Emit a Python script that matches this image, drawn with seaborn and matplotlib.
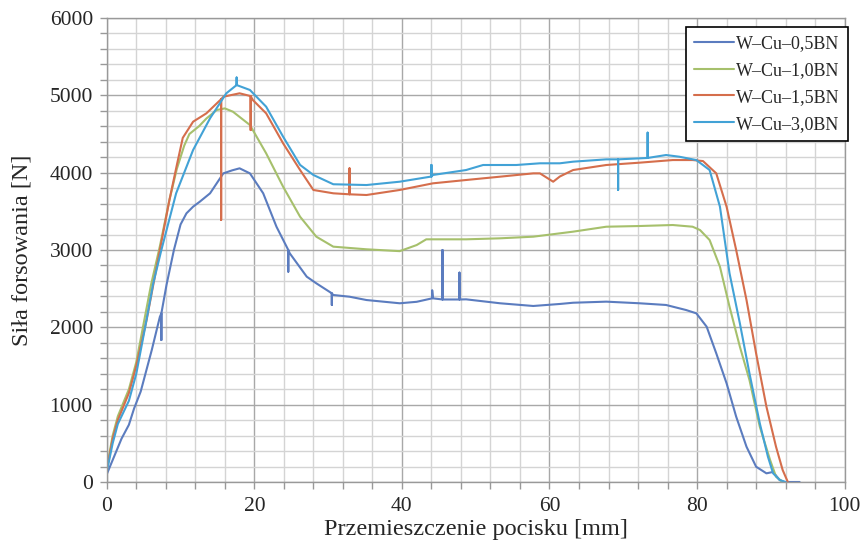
import matplotlib
matplotlib.use("Agg")
import matplotlib.pyplot as plt
from matplotlib.ticker import MultipleLocator
import numpy as np
import pandas as pd
import seaborn as sns

# W-Cu-0,5BN
x_05 = [0, 1.0, 2.0, 3.0, 3.7, 4.6, 6.1, 7.2, 7.4, 7.4, 7.4, 8.1, 9.1, 10.0, 10.8, 11.7, 12.6,
        14.0, 15.8, 17.0, 18.0, 19.4, 21.2, 23.0, 24.6, 24.6, 24.6, 24.8, 27.1, 28.4, 29.8,
        30.5, 30.5, 30.5, 30.7, 32.9, 35.2, 39.7, 42.0, 44.1, 44.1, 44.2, 45.5, 45.5, 45.5,
        47.8, 47.8, 47.8, 48.7, 53.3, 57.8, 61.4, 63.2, 67.7, 72.2, 75.8, 78.5, 79.9, 81.3,
        82.6, 84.0, 85.3, 86.7, 88.0, 89.4, 90.3, 91.2, 91.8, 93.9]
y_05 = [100, 330, 560, 740, 950, 1170, 1707, 2137, 2180, 1836, 2180, 2550, 3000, 3330, 3474,
        3560, 3624, 3733, 3991, 4030, 4056, 3991, 3733, 3301, 3000, 2720, 3000, 2957, 2655,
        2569, 2483, 2440, 2289, 2440, 2418, 2396, 2353, 2311, 2330, 2375, 2480, 2375, 2360,
        3000, 2360, 2360, 2707, 2360, 2362, 2311, 2276, 2302, 2318, 2332, 2311, 2289, 2224,
        2181, 2008, 1664, 1276, 845, 456, 198, 112, 130, 25, 0, 0]

# W-Cu-1,0BN
x_10 = [0, 0.8, 1.5, 3.0, 4.0, 5.0, 6.0, 7.2, 8.5, 9.5, 10.5, 11.2, 12.5, 13.5, 14.9, 16.0,
        17.1, 19.4, 21.6, 23.9, 26.2, 28.4, 30.7, 35.2, 39.7, 42.0, 43.3, 48.7, 53.3, 57.8,
        63.2, 67.7, 72.2, 76.7, 79.4, 80.4, 81.7, 83.1, 84.4, 85.8, 87.1, 88.5, 89.9, 90.7,
        91.6]
y_10 = [180, 600, 850, 1200, 1550, 2050, 2550, 3050, 3650, 4050, 4350, 4500, 4600, 4700, 4810,
        4831, 4788, 4616, 4250, 3818, 3430, 3172, 3043, 3009, 2985, 3064, 3138, 3138, 3151,
        3172, 3237, 3301, 3310, 3323, 3301, 3258, 3129, 2784, 2267, 1750, 1319, 715, 284, 69, 0]

# W-Cu-1,5BN
x_15 = [0, 0.8, 1.5, 3.0, 4.0, 5.4, 7.2, 8.5, 9.5, 10.3, 11.7, 13.5, 15.5, 15.5, 15.5, 15.8,
        18.0, 19.5, 19.5, 19.5, 19.8, 21.6, 23.9, 26.2, 28.0, 30.7, 32.9, 32.9, 32.9, 35.2,
        39.7, 44.2, 48.7, 53.3, 57.8, 58.7, 60.5, 61.4, 63.2, 67.7, 72.2, 76.7, 79.4, 80.8,
        82.6, 84.0, 85.3, 86.7, 88.0, 89.4, 90.7, 91.6, 92.3]
y_15 = [150, 560, 800, 1150, 1500, 2095, 3000, 3650, 4100, 4450, 4659, 4767, 4950, 3388, 4950,
        4982, 5026, 4990, 4551, 4990, 4939, 4767, 4379, 4034, 3776, 3733, 3720, 4056, 3720,
        3711, 3776, 3862, 3905, 3948, 3991, 3991, 3883, 3950, 4034, 4099, 4129, 4163, 4163,
        4150, 3991, 3560, 3000, 2353, 1664, 974, 456, 155, 0]

# W-Cu-3,0BN
x_30 = [0, 0.8, 1.5, 3.0, 4.0, 5.1, 6.3, 7.4, 9.4, 11.7, 14.0, 16.2, 17.6, 17.6, 17.6, 19.4,
        21.6, 23.9, 26.2, 28.0, 30.7, 35.2, 39.7, 44.0, 44.0, 44.0, 44.2, 48.7, 51.0, 55.5,
        58.7, 61.4, 63.2, 67.7, 69.3, 69.3, 69.3, 72.2, 73.3, 73.3, 73.3, 75.8, 77.6, 79.9,
        81.7, 83.1, 84.4, 85.8, 87.1, 88.5, 89.6, 90.3, 91.2, 92.0]
y_30 = [130, 500, 750, 1050, 1400, 1950, 2569, 3000, 3733, 4293, 4703, 5026, 5133, 5230, 5133,
        5069, 4853, 4465, 4100, 3970, 3850, 3840, 3883, 3950, 4100, 3950, 3970, 4034, 4099,
        4099, 4121, 4121, 4142, 4172, 4172, 3776, 4172, 4185, 4190, 4517, 4190, 4228, 4206,
        4163, 4034, 3560, 2698, 2052, 1405, 759, 328, 113, 26, 0]

labels = ["W\u2013Cu\u20130,5BN", "W\u2013Cu\u20131,0BN", "W\u2013Cu\u20131,5BN", "W\u2013Cu\u20133,0BN"]
colors = ["#5b7cbf", "#a6c06c", "#d56e4c", "#42a2d6"]

frames = []
for lab, xs, ys in zip(labels, [x_05, x_10, x_15, x_30], [y_05, y_10, y_15, y_30]):
    frames.append(pd.DataFrame({"x": xs, "y": ys, "seria": lab}))
df = pd.concat(frames, ignore_index=True)

sns.set_style("white")
plt.rcParams['font.family'] = ['Liberation Serif', 'DejaVu Serif']

fig = plt.figure(figsize=(8.61, 5.45), dpi=100)
ax = fig.add_axes([0.124, 0.1156, 0.857, 0.8514])

sns.lineplot(data=df, x="x", y="y", hue="seria", palette=colors, sort=False,
             estimator=None, lw=1.5, ax=ax)

ax.set_xlim(0, 100)
ax.set_ylim(0, 6000)
ax.xaxis.set_major_locator(MultipleLocator(20))
ax.xaxis.set_minor_locator(MultipleLocator(4))
ax.yaxis.set_major_locator(MultipleLocator(1000))
ax.yaxis.set_minor_locator(MultipleLocator(200))

ax.grid(which='minor', color='#d4d4d4', lw=1.0)
ax.grid(which='major', color='#a8a8a8', lw=1.0)
ax.set_axisbelow(True)

for s in ax.spines.values():
    s.set_color('#999999')
    s.set_linewidth(1.0)

ax.tick_params(which='both', direction='out', color='#999999', length=5, width=1,
               left=True, bottom=True, labelsize=15.5)
ax.tick_params(axis='x', which='major', pad=6)
ax.tick_params(axis='y', which='major', pad=5)

ax.set_xlabel('Przemieszczenie pocisku [mm]', fontsize=17.5, labelpad=2)
ax.set_ylabel('Siła forsowania [N]', fontsize=17.5, labelpad=12)

leg = ax.legend(loc='upper right', bbox_to_anchor=(1.004, 0.981), fontsize=13,
                frameon=True, fancybox=False, handlelength=2.2, handletextpad=0.1,
                labelspacing=0.55, borderpad=0.45, borderaxespad=0)
leg.get_frame().set_edgecolor('black')
leg.get_frame().set_linewidth(1.2)
leg.get_frame().set_alpha(1)

fig.savefig('out.png', dpi=100)
